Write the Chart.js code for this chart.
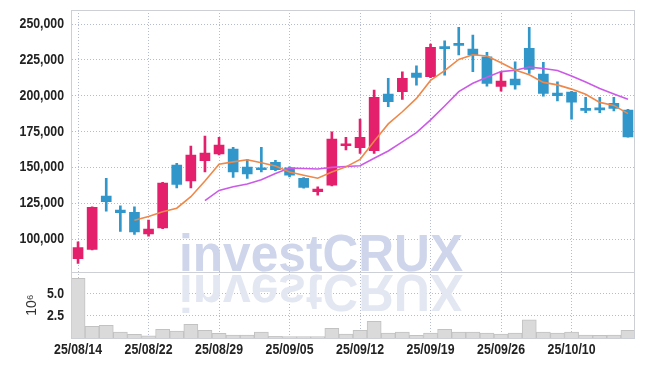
<!DOCTYPE html>
<html lang="ko">
<head>
<meta charset="UTF-8">
<title>investCRUX chart</title>
<script src="https://cdn.jsdelivr.net/npm/chart.js"></script>
<style>
  html, body { margin: 0; padding: 0; background: #fff; }
  .wrap { width: 645px; height: 366px; position: relative; }
</style>
</head>
<body>
<div class="wrap"><canvas id="chart"></canvas></div>
<script>
// data
const dates = ['25/08/14', '25/08/18', '25/08/19', '25/08/20', '25/08/21', '25/08/22',
  '25/08/25', '25/08/26', '25/08/27', '25/08/28', '25/08/29',
  '25/09/01', '25/09/02', '25/09/03', '25/09/04', '25/09/05',
  '25/09/08', '25/09/09', '25/09/10', '25/09/11', '25/09/12',
  '25/09/15', '25/09/16', '25/09/17', '25/09/18', '25/09/19',
  '25/09/22', '25/09/23', '25/09/24', '25/09/25', '25/09/26',
  '25/09/29', '25/09/30', '25/10/01', '25/10/02', '25/10/10',
  '25/10/13', '25/10/14', '25/10/15', '25/10/16'];

const opens = [86200, 92700, 129900, 120200, 118600, 103600, 107800, 151600, 140600, 154600,
  159300, 162800, 150200, 149500, 153500, 149700, 142300, 133000, 137600, 165100,
  163700, 161600, 201100, 202800, 215800, 213200, 233300, 235500, 232600, 227200,
  206500, 211600, 233000, 215100, 201800, 202500, 190200, 191600, 194700, 190000];
const highs = [98000, 122500, 142300, 123200, 122500, 113200, 139500, 152800, 164800, 171800,
  170900, 163900, 155600, 163900, 154900, 150400, 142800, 136400, 174800, 170900,
  183700, 203900, 212100, 216700, 220900, 236000, 238300, 247700, 242300, 230300,
  216700, 223700, 247700, 223300, 209700, 203000, 198800, 198800, 198800, 190500];
const lows = [83000, 92300, 119500, 105300, 103200, 102000, 107300, 135700, 135700, 146900,
  158600, 143000, 142300, 146900, 147700, 143400, 135500, 130600, 137000, 162100,
  159800, 159800, 192300, 197400, 207400, 212500, 214400, 228400, 216700, 206700,
  203200, 204600, 215600, 199700, 196300, 183700, 188100, 188100, 189300, 171000];
const closes = [94100, 122100, 126000, 118300, 105000, 106900, 139000, 138100, 158600, 160000,
  165500, 146900, 145500, 148300, 148300, 144600, 136000, 134800, 169700, 166500,
  170900, 198800, 195800, 212100, 212800, 233700, 232800, 235100, 228400, 208600,
  210200, 207600, 218400, 201600, 200000, 195400, 189800, 190000, 191200, 171300];

const ma5 = [null, null, null, null, 113090, 115650, 119040, 121470, 129520, 140510,
  152240, 153820, 155300, 153240, 150910, 146720, 144550, 142410, 146700, 150330,
  155590, 168150, 180340, 188810, 198080, 210650, 217430, 225310, 228560, 227720,
  223010, 217990, 214640, 209290, 207560, 204590, 201010, 195330, 193240, 187510];
const ma10 = [null, null, null, null, null, null, null, null, null, 126800,
  133940, 136430, 138380, 141380, 145710, 149480, 149180, 148850, 149970, 150620,
  151160, 156350, 161380, 167760, 174210, 183120, 192790, 202820, 208690, 212900,
  216830, 217710, 219970, 218930, 217640, 213800, 209500, 204990, 201270, 197540];

// volume in millions of shares (10^6)
const volumes = [6.78, 1.33, 1.44, 0.68, 0.42, 0.26, 0.99, 0.80, 1.56, 0.88,
  0.53, 0.34, 0.34, 0.68, 0.19, 0.15, 0.15, 0.15, 1.10, 0.45,
  0.88, 1.90, 0.57, 0.68, 0.31, 0.57, 0.99, 0.68, 0.68, 0.57,
  0.45, 0.57, 2.05, 0.68, 0.57, 0.68, 0.34, 0.31, 0.34, 0.88];

const priceTicks = [100000, 125000, 150000, 175000, 200000, 225000, 250000];
const volumeTicks = [2.5, 5.0];

const FONT = "'Liberation Sans', Arial, sans-serif";
const UP = '#e4206c';
const DOWN = '#3197ca';
const GRID = '#b4bbd3';
const DOTS = [1, 2];

const bodies = opens.map((o, i) => [o, closes[i]]);
const wicks = lows.map((l, i) => [l, highs[i]]);
const candleColors = opens.map((o, i) => closes[i] >= o ? UP : DOWN);

// watermark with its mirror image
const watermark = {
  id: 'watermark',
  beforeDatasetsDraw(chart) {
    const ctx = chart.ctx;
    const base = chart.scales.y.bottom - 1.5;
    const left = chart.chartArea.left + 108;
    const text = 'investCRUX';
    ctx.save();
    ctx.font = 'bold 52px ' + FONT;
    ctx.textBaseline = 'alphabetic';
    const sx = 284 / ctx.measureText(text).width;
    ctx.save();
    ctx.translate(left, base);
    ctx.scale(sx, 1);
    ctx.fillStyle = 'rgb(207, 213, 234)';
    ctx.fillText(text, 0, 0);
    ctx.restore();
    ctx.save();
    ctx.translate(left, base + 4.5);
    ctx.scale(sx, -1);
    ctx.fillStyle = 'rgb(227, 231, 242)';
    ctx.fillText(text, 0, 0);
    ctx.restore();
    ctx.restore();
  }
};

// outer frame and the line between price and volume panels
const frame = {
  id: 'frame',
  afterDatasetsDraw(chart) {
    const {ctx, chartArea: a} = chart;
    const sep = Math.round(chart.scales.y.bottom) + 0.5;
    ctx.save();
    ctx.strokeStyle = '#cdcfd6';
    ctx.lineWidth = 1;
    ctx.strokeRect(Math.round(a.left) + 0.5, Math.round(a.top) + 0.5,
      Math.round(a.right - a.left) - 1, Math.round(a.bottom - a.top));
    ctx.beginPath();
    ctx.moveTo(a.left, sep);
    ctx.lineTo(a.right, sep);
    ctx.stroke();
    ctx.restore();
  }
};

// tick labels in a narrow face (no condensed font installed, so squeeze horizontally)
function narrowText(ctx, text, x, y, align) {
  ctx.save();
  ctx.translate(x, y);
  ctx.scale(0.82, 1);
  ctx.textAlign = align;
  ctx.fillText(text, 0, 0);
  ctx.restore();
}

const narrowTicks = {
  id: 'narrowTicks',
  afterDraw(chart) {
    const ctx = chart.ctx;
    const {x, y, yv} = chart.scales;
    ctx.save();
    ctx.font = 'bold 15px ' + FONT;
    ctx.fillStyle = '#222';
    ctx.textBaseline = 'middle';
    priceTicks.forEach(v => narrowText(ctx, v.toLocaleString('en-US'), y.right - 7, y.getPixelForValue(v), 'right'));
    volumeTicks.forEach(v => narrowText(ctx, v.toFixed(1), yv.right - 7, yv.getPixelForValue(v), 'right'));
    dates.forEach((d, i) => {
      if (i % 5 === 0) narrowText(ctx, d, x.getPixelForValue(i), x.top + 12, 'center');
    });
    ctx.restore();
  }
};

new Chart(document.getElementById('chart'), {
  type: 'bar',
  data: {
    labels: dates,
    datasets: [
      {
        type: 'line', label: 'MA5', data: ma5, yAxisID: 'y', order: 0,
        borderColor: '#ef8849', borderWidth: 1.6, pointRadius: 0, tension: 0
      },
      {
        type: 'line', label: 'MA10', data: ma10, yAxisID: 'y', order: 0,
        borderColor: '#cc5ae8', borderWidth: 1.6, pointRadius: 0, tension: 0
      },
      {
        label: 'body', data: bodies, yAxisID: 'y', order: 1, grouped: false,
        backgroundColor: candleColors, barThickness: 10, minBarLength: 2, borderWidth: 0
      },
      {
        label: 'wick', data: wicks, yAxisID: 'y', order: 2, grouped: false,
        backgroundColor: candleColors, barThickness: 2, borderWidth: 0
      },
      {
        label: 'volume', data: volumes, yAxisID: 'yv', order: 3, grouped: false,
        backgroundColor: '#dadada', borderColor: '#c2c2c2', borderWidth: 1,
        barPercentage: 1, categoryPercentage: 1
      }
    ]
  },
  options: {
    responsive: true,
    maintainAspectRatio: false,
    animation: false,
    layout: { padding: { top: 10, right: 10, left: 0, bottom: 0 } },
    plugins: { legend: { display: false }, tooltip: { enabled: false } },
    scales: {
      x: {
        type: 'category',
        offset: true,
        afterFit: s => { s.height = 28; },
        border: { display: true, color: 'transparent', dash: DOTS },
        grid: {
          offset: false,
          drawTicks: false,
          borderDash: DOTS,
          color: c => c.index % 5 === 0 ? GRID : 'transparent'
        },
        ticks: { display: false, autoSkip: false }
      },
      y: {
        stack: 'panels',
        stackWeight: 4,
        weight: 1,
        position: 'left',
        min: 76700,
        max: 259800,
        afterFit: s => { s.width = 71; },
        afterBuildTicks: s => { s.ticks = priceTicks.map(v => ({ value: v })); },
        border: { display: true, color: 'transparent', dash: DOTS },
        grid: { drawTicks: false, borderDash: DOTS, color: GRID },
        ticks: { display: false }
      },
      yv: {
        stack: 'panels',
        stackWeight: 1,
        weight: 0,
        position: 'left',
        min: 0,
        max: 7.45,
        afterFit: s => { s.width = 71; },
        afterBuildTicks: s => { s.ticks = volumeTicks.map(v => ({ value: v })); },
        border: { display: true, color: 'transparent', dash: DOTS },
        grid: { drawTicks: false, borderDash: DOTS, color: GRID },
        title: {
          display: true,
          text: '10⁶',
          color: '#333',
          font: { family: FONT, size: 14 },
          padding: { top: 24, bottom: 0 }
        },
        ticks: { display: false }
      }
    }
  },
  plugins: [watermark, frame, narrowTicks]
});
</script>
</body>
</html>
